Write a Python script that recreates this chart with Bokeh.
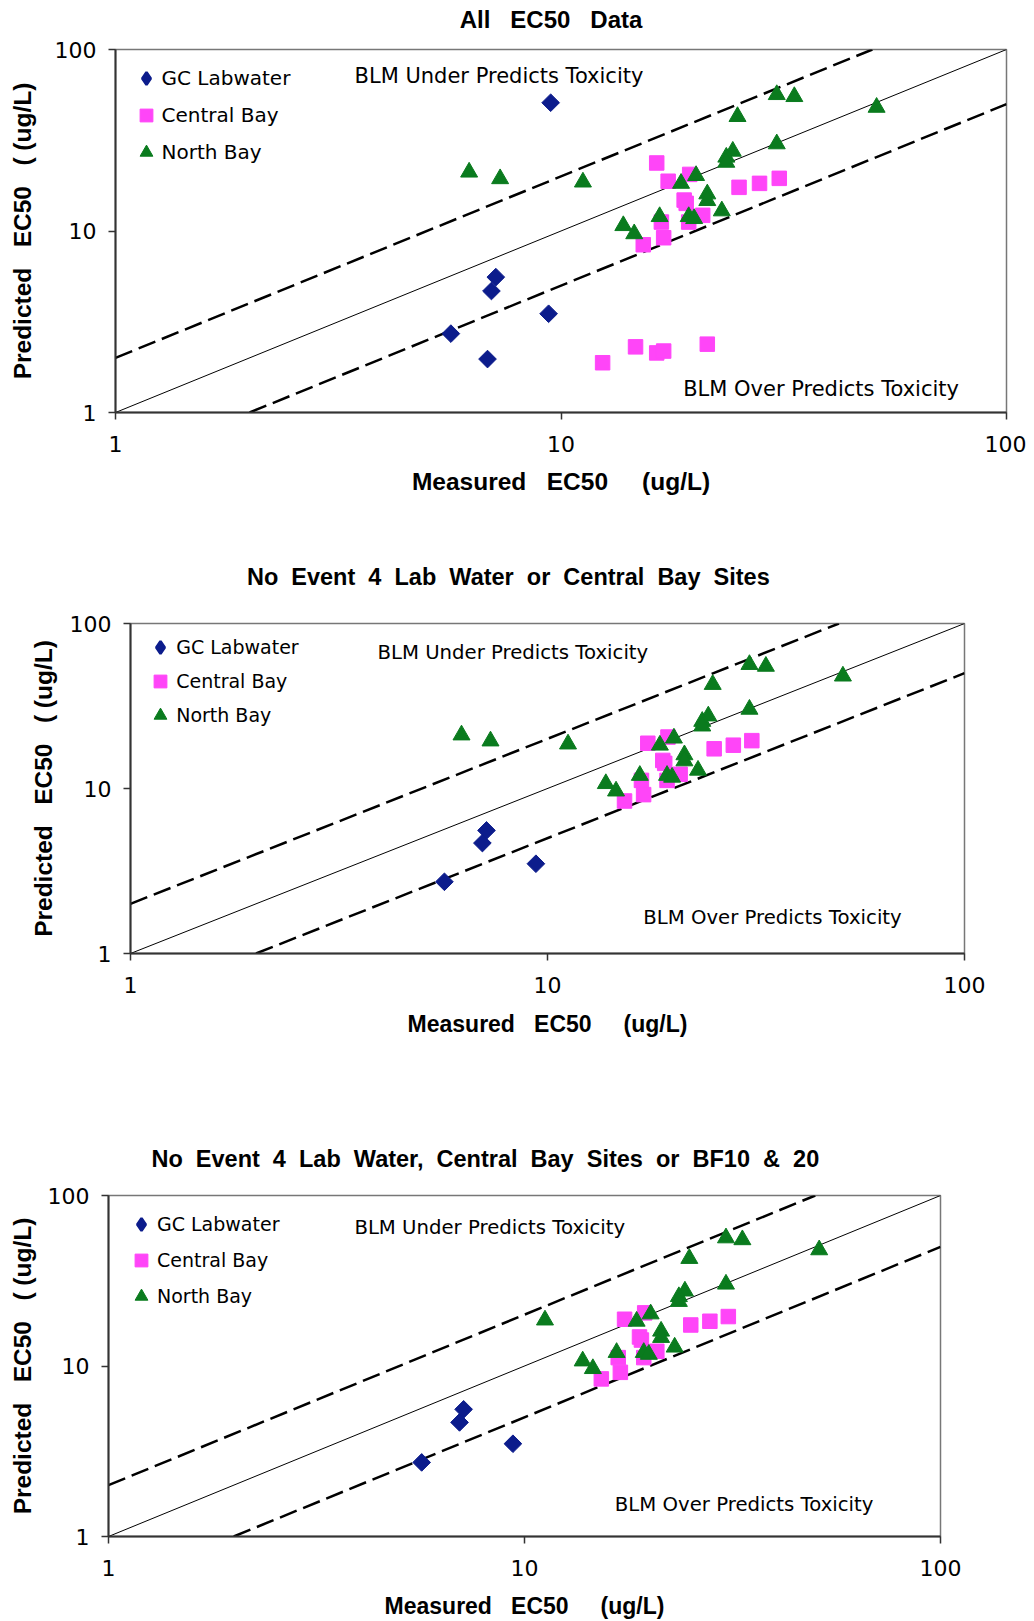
import numpy as np
from bokeh.plotting import figure
from bokeh.layouts import column
from bokeh.models import (Range1d, FixedTicker, Label, Legend, LegendItem,
                          BasicTickFormatter, LinearAxis)
from bokeh.embed import file_html
from bokeh.resources import INLINE

S = "\u00a0"

# ---------------- data ----------------
gc_measured  = [5.66, 6.84, 6.98, 7.14, 9.38, 9.48]
gc_predicted = [2.72, 1.97, 4.67, 5.57, 3.50, 50.9]
gc_event4    = [False, True, False, False, False, True]   # dropped in charts 2 and 3

cb_measured  = [16.4, 17.4, 19.45, 18.9, 19.1, 20.8, 19.35, 16.8, 17.0, 15.3,
                25.1, 27.9, 30.9, 12.4, 14.7, 16.4, 17.0, 21.3]
cb_predicted = [23.7, 18.8, 20.5, 14.8, 14.2, 12.2, 11.2, 11.2, 9.18, 8.40,
                17.4, 18.3, 19.5, 1.88, 2.30, 2.13, 2.18, 2.38]
cb_central_site = [True, False, False, False, False, False, False, False, False, False,
                   False, False, False, True, True, True, True, True]

nb_measured  = [6.22, 7.30, 11.2, 30.5, 33.4, 51.1, 24.9, 30.5, 24.3, 23.5, 23.5,
                20.1, 18.6, 21.3, 21.3, 16.65, 13.8, 14.6, 19.35, 19.9, 22.96]
nb_predicted = [21.1, 19.4, 18.6, 56.4, 55.0, 48.0, 42.7, 30.2, 27.5, 25.5, 23.9,
                20.2, 18.3, 16.0, 14.7, 12.0, 10.7, 9.65, 12.0, 11.7, 12.9]
nb_bf1020    = [True, True] + [False] * 19                 # dropped in chart 3

# reference lines: 1:1 and factor-of-two band
ref_x, ref_y = [1, 100], [1, 100]
upper_x, upper_y = [1, 50], [2, 100]
lower_x, lower_y = [2, 100], [1, 50]

tick_values = [1, 10, 100]
tick_labels = ["1", "10", "100"]

series_labels = ["GC Labwater", "Central Bay", "North Bay"]
titles = ["All" + S * 3 + "EC50" + S * 3 + "Data",
          (S * 2).join(["No", "Event", "4", "Lab", "Water", "or", "Central", "Bay", "Sites"]),
          (S * 2).join(["No", "Event", "4", "Lab", "Water,", "Central", "Bay", "Sites",
                        "or", "BF10", "&", "20"])]
x_title = "Measured" + S * 3 + "EC50" + S * 5 + "(ug/L)"
y_title = "Predicted" + S * 3 + "EC50" + S * 3 + "(" + S + "(ug/L)"
under_text = "BLM Under Predicts Toxicity"
over_text = "BLM Over Predicts Toxicity"

COL_GC = "#0c1c8c"
COL_CB = "#ff45f8"
COL_NB = "#0a7b1e"


def pick(vals, flags, drop):
    return [v for v, f in zip(vals, flags) if not (drop and f)]


def make_chart(cfg):
    p = figure(x_axis_type="log", y_axis_type="log",
               x_range=Range1d(1, 100), y_range=Range1d(1, 100),
               frame_width=cfg["fw"], frame_height=cfg["fh"],
               min_border_left=cfg["bl"], min_border_right=cfg["br"],
               min_border_top=cfg["bt"], min_border_bottom=cfg["bb"],
               toolbar_location=None, output_backend="svg",
               background_fill_color="white", border_fill_color="white")
    try:
        p.frame_align = False
    except Exception:
        pass
    p.grid.visible = False
    p.outline_line_color = "#777777"
    p.outline_line_width = 1.5

    for ax in (p.xaxis[0], p.yaxis[0]):
        ax.ticker = FixedTicker(ticks=tick_values)
        ax.formatter = BasicTickFormatter()
        ax.major_label_overrides = {v: l for v, l in zip(tick_values, tick_labels)}
        ax.minor_tick_line_color = None
        ax.major_tick_out = 7
        ax.major_tick_in = 0
        ax.major_tick_line_color = "#333333"
        ax.major_tick_line_width = 1.5
        ax.axis_line_color = "#333333"
        ax.axis_line_width = 2
        ax.major_label_text_font = "DejaVu Sans"
        ax.major_label_text_font_size = "22px"
        ax.major_label_text_color = "black"
        ax.axis_label_text_font = "Liberation Sans"
        ax.axis_label_text_font_style = "bold"
        ax.axis_label_text_color = "black"
    p.xaxis[0].axis_label_text_font_size = cfg["xtsize"]
    p.yaxis[0].axis_label_text_font_size = "24.5px"
    p.xaxis[0].major_label_standoff = 16
    p.yaxis[0].major_label_standoff = 12
    p.xaxis[0].axis_label = x_title
    p.yaxis[0].axis_label = y_title
    p.xaxis[0].axis_label_standoff = cfg["xls"]
    p.yaxis[0].axis_label_standoff = cfg["yls"]

    # chart title, carried by a tick-less axis above the frame
    tax = LinearAxis(axis_label=cfg["title"] + S * cfg["tpad"],
                     ticker=FixedTicker(ticks=[]),
                     major_tick_out=0, major_tick_in=0, major_label_standoff=0,
                     axis_line_color=None, major_tick_line_color=None,
                     minor_tick_line_color=None,
                     axis_label_standoff=cfg["tls"],
                     axis_label_text_font="Liberation Sans",
                     axis_label_text_font_size=cfg["tsize"],
                     axis_label_text_font_style="bold",
                     axis_label_text_color="black")
    p.add_layout(tax, "above")

    p.line(ref_x, ref_y, line_color="black", line_width=1)
    p.line(upper_x, upper_y, line_color="black", line_width=2.5, line_dash="18 7")
    p.line(lower_x, lower_y, line_color="black", line_width=2.5, line_dash="18 7")

    gx = pick(gc_measured, gc_event4, cfg["drop_gc"])
    gy = pick(gc_predicted, gc_event4, cfg["drop_gc"])
    p.scatter(gx, gy, marker="square", angle=np.pi / 4, size=12.5,
              fill_color=COL_GC, line_color=COL_GC)
    r_cb = p.scatter(pick(cb_measured, cb_central_site, cfg["drop_cb"]),
                     pick(cb_predicted, cb_central_site, cfg["drop_cb"]),
                     marker="square", size=14.5, fill_color=COL_CB, line_color=COL_CB)
    r_nb = p.scatter(pick(nb_measured, nb_bf1020, cfg["drop_nb"]),
                     pick(nb_predicted, nb_bf1020, cfg["drop_nb"]),
                     marker="triangle", size=17, fill_color=COL_NB, line_color=COL_NB)
    # hidden diamond renderer of the same points, used only for the legend swatch
    r_gc_leg = p.scatter(gx, gy, marker="diamond", size=12.5, line_width=2.5,
                         fill_color=COL_GC, line_color=COL_GC, visible=False)

    leg = Legend(items=[LegendItem(label=series_labels[0], renderers=[r_gc_leg]),
                        LegendItem(label=series_labels[1], renderers=[r_cb]),
                        LegendItem(label=series_labels[2], renderers=[r_nb])],
                 location=cfg["leg"], glyph_width=32, glyph_height=cfg["gh"],
                 spacing=cfg["sp"], label_standoff=0, padding=0, margin=0,
                 border_line_color=None, background_fill_alpha=0,
                 inactive_fill_alpha=0,
                 label_text_font="DejaVu Sans", label_text_font_size=cfg["lsize"],
                 label_text_color="black")
    p.add_layout(leg)

    for (lx, ly), txt in ((cfg["under"], under_text), (cfg["over"], over_text)):
        p.add_layout(Label(x=lx, y=ly, text=txt, text_font="DejaVu Sans",
                           text_font_size=cfg["bsize"], text_align="left",
                           text_baseline="middle", text_color="black"))
    return p


configs = [
    dict(fw=891, fh=363, bl=115, br=20, bt=49, bb=103, title=titles[0], tsize="24px",
         tpad=3, tls=17, under=(3.44, 71.2), over=(18.8, 1.347),
         leg=(14.5, 242.2), gh=36, sp=1, yls=16, xls=13,
         xtsize="24.5px", lsize="20px", bsize="21px",
         drop_gc=False, drop_cb=False, drop_nb=False),
    dict(fw=834, fh=330, bl=130, br=62, bt=108, bb=147, title=titles[1], tsize="23.5px",
         tpad=12, tls=34, under=(3.91, 66.7), over=(16.96, 1.656),
         leg=(14.2, 220.7), gh=34, sp=0, yls=10, xls=15,
         xtsize="23px", lsize="19px", bsize="19.7px",
         drop_gc=True, drop_cb=True, drop_nb=False),
    dict(fw=832, fh=341, bl=108, br=86, bt=95, bb=85, title=titles[2], tsize="23.5px",
         tpad=12, tls=24, under=(3.90, 65.0), over=(16.49, 1.537),
         leg=(17, 222.5), gh=36, sp=0, yls=9, xls=14,
         xtsize="23px", lsize="19px", bsize="19.7px",
         drop_gc=True, drop_cb=True, drop_nb=True),
]

plots = [make_chart(c) for c in configs]
layout = column(*plots)

open("out.html", "w").write(file_html(layout, INLINE))
